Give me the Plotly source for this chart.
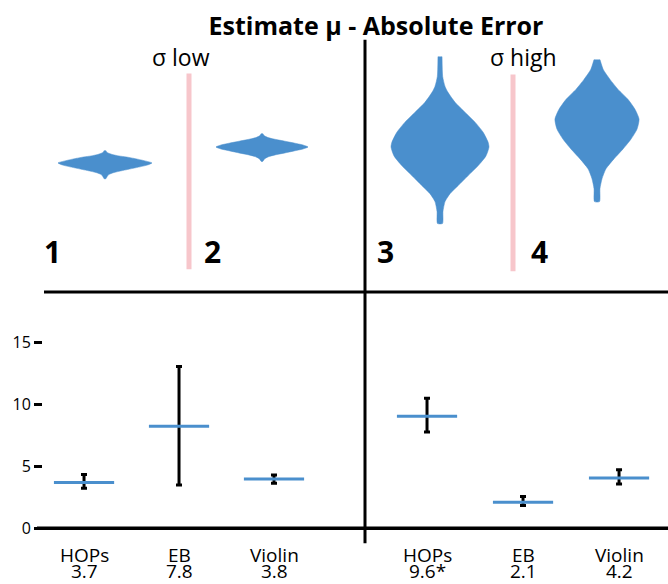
import plotly.graph_objects as go

# ---------------- data ----------------
methods = ["HOPs", "EB", "Violin"]
low_mean = [3.69, 8.24, 3.99]
low_upper = [4.35, 13.07, 4.30]
low_lower = [3.23, 3.50, 3.63]
high_mean = [9.04, 2.11, 4.06]
high_upper = [10.50, 2.57, 4.73]
high_lower = [7.78, 1.84, 3.58]
low_scores = ["3.7", "7.8", "3.8"]
high_scores = ["9.6*", "2.1", "4.2"]
y_ticks = [0, 5, 10, 15]

title_text = "Estimate μ - Absolute Error"
panel_numbers = ["1", "2", "3", "4"]
sigma_labels = ["σ low", "σ high"]

# violin outlines (offset from centre, half width)
violin_slot = [0, 1, 0, 1]
violin_center = [126, 142, 142, 170]
v1_dy = [12.5, 10.5, 8.5, 7, 6, 4.5, 3, 1.5, 0, -2, -4, -5.5, -7, -8.5, -10, -12, -14, -16]
v1_hw = [0.005, 0.013, 0.045, 0.089, 0.134, 0.185, 0.229, 0.268, 0.299, 0.274, 0.223,
         0.178, 0.134, 0.089, 0.051, 0.022, 0.013, 0.005]
v2_dy = [13.5, 11.5, 9.5, 8, 6, 4, 2, 0, -2, -4, -6, -8, -10, -12, -14.5]
v2_hw = [0.005, 0.013, 0.038, 0.076, 0.140, 0.204, 0.261, 0.293, 0.261, 0.204, 0.146,
         0.083, 0.038, 0.016, 0.005]
v3_dy = [91, 71, 61, 55, 45, 35, 25, 15, 5, 0, -9, -19, -29, -39, -47, -55, -65, -77]
v3_hw = [0.013, 0.017, 0.032, 0.051, 0.096, 0.159, 0.223, 0.274, 0.306, 0.312, 0.293,
         0.242, 0.178, 0.115, 0.064, 0.032, 0.019, 0.016]
v4_dy = [60, 50, 40, 30, 20, 10, 0, -10, -20, -30, -40, -50, -60, -70, -83]
v4_hw = [0.019, 0.040, 0.083, 0.134, 0.197, 0.242, 0.268, 0.255, 0.217, 0.166, 0.108,
         0.057, 0.032, 0.019, 0.016]

# ---------------- style ----------------
W, H = 668, 584
FONT = "Open Sans, Roboto, sans-serif"
BLUE = "#4a8fcd"
PINK = "#f7c6cb"


def px(x):
    return x / W


def py(y):
    return 1 - y / H


fig = go.Figure()

# ---- violins (top) ----
profiles = [(v1_dy, v1_hw), (v2_dy, v2_hw), (v3_dy, v3_hw), (v4_dy, v4_hw)]
for k, (dy, hw) in enumerate(profiles):
    s = violin_slot[k]
    c = violin_center[k]
    xs = [s + h for h in hw] + [s - h for h in reversed(hw)]
    ys = [c + d for d in dy] + [c + d for d in reversed(dy)]
    fig.add_trace(go.Scatter(
        x=xs, y=ys, mode="lines", fill="toself", fillcolor=BLUE,
        line=dict(color=BLUE, width=0.5, shape="spline", smoothing=0.6),
        xaxis="x3" if k < 2 else "x4", yaxis="y3",
        hoverinfo="skip", showlegend=False))

# ---- means with intervals (bottom) ----
for xa, means, up, lo in [("x", low_mean, low_upper, low_lower),
                          ("x2", high_mean, high_upper, high_lower)]:
    fig.add_trace(go.Scatter(
        x=methods, y=means, mode="markers",
        marker=dict(symbol="line-ew", size=43, color=BLUE,
                    line=dict(color=BLUE, width=3)),
        error_y=dict(type="data", symmetric=False,
                     array=[u - m for u, m in zip(up, means)],
                     arrayminus=[m - l for m, l in zip(means, lo)],
                     color="black", thickness=3, width=3),
        xaxis=xa, yaxis="y", showlegend=False))

y_dom = [py(538.2), py(307.5)]
fig.update_layout(
    width=W, height=H, margin=dict(l=0, r=0, t=0, b=0),
    paper_bgcolor="white", plot_bgcolor="rgba(0,0,0,0)",
    font=dict(family=FONT, color="black"),
    showlegend=False,
    title=dict(text=title_text, x=px(376), y=py(26), xanchor="center", yanchor="middle",
               font=dict(family=FONT, size=25, weight=700, color="black")),
    xaxis=dict(domain=[px(43), px(365)], range=[-0.432, 2.958], anchor="y",
               showgrid=False, zeroline=False, showline=False, showticklabels=False,
               ticks="", categoryorder="array", categoryarray=methods),
    xaxis2=dict(domain=[px(365), 1], range=[-0.646, 2.510], anchor="y",
                showgrid=False, zeroline=False, showline=False, showticklabels=False,
                ticks="", categoryorder="array", categoryarray=methods),
    yaxis=dict(domain=y_dom, range=[-0.5, 18], anchor="x",
               tickvals=y_ticks, ticks="outside", ticklen=8, tickwidth=3,
               tickcolor="black", showgrid=False, zeroline=False, showline=False,
               tickfont=dict(family=FONT, size=16, color="black")),
    xaxis3=dict(domain=[0, px(365)], range=[-105 / 157, (365 - 105) / 157],
                anchor="y3", visible=False),
    xaxis4=dict(domain=[px(365), 1], range=[-(440 - 365) / 157, (668 - 440) / 157],
                anchor="y3", visible=False),
    yaxis3=dict(domain=[py(290), py(40)], range=[0, 250], anchor="x3", visible=False),
)

shapes = [
    dict(type="line", xref="paper", yref="paper", x0=px(365), x1=px(365),
         y0=py(547), y1=py(40), line=dict(color="black", width=3)),
    dict(type="line", xref="paper", yref="paper", x0=px(44), x1=1,
         y0=py(294), y1=py(294), line=dict(color="black", width=3)),
    dict(type="line", xref="paper", yref="y", x0=px(37), x1=1,
         y0=0, y1=0, line=dict(color="black", width=3.5)),
    dict(type="line", xref="paper", yref="paper", x0=px(189), x1=px(189),
         y0=py(271), y1=py(74), line=dict(color=PINK, width=5)),
    dict(type="line", xref="paper", yref="paper", x0=px(513), x1=px(513),
         y0=py(273), y1=py(75), line=dict(color=PINK, width=5)),
]
fig.update_layout(shapes=shapes)

ann = []
for t, xp in zip(panel_numbers, [52, 212, 386, 539]):
    ann.append(dict(text=t, xref="paper", yref="paper", x=px(xp), y=py(253),
                    xanchor="center", yanchor="middle", showarrow=False,
                    font=dict(family=FONT, size=30, weight=700, color="black")))
for t, xp in zip(sigma_labels, [181, 523]):
    ann.append(dict(text=t, xref="paper", yref="paper", x=px(xp), y=py(57),
                    xanchor="center", yanchor="middle", showarrow=False,
                    font=dict(family=FONT, size=23, color="black")))
for xa, scores in [("x", low_scores), ("x2", high_scores)]:
    for m, s in zip(methods, scores):
        ann.append(dict(text=m, xref=xa, yref="paper", x=m, y=py(559),
                        xanchor="center", yanchor="middle", showarrow=False,
                        font=dict(family=FONT, size=19, color="black")))
        ann.append(dict(text=s, xref=xa, yref="paper", x=m, y=py(575),
                        xanchor="center", yanchor="middle", showarrow=False,
                        font=dict(family=FONT, size=19, color="black")))
fig.update_layout(annotations=ann)

fig.write_html("out.html", config={"displayModeBar": False},
               post_script="document.body.style.margin='0';")
